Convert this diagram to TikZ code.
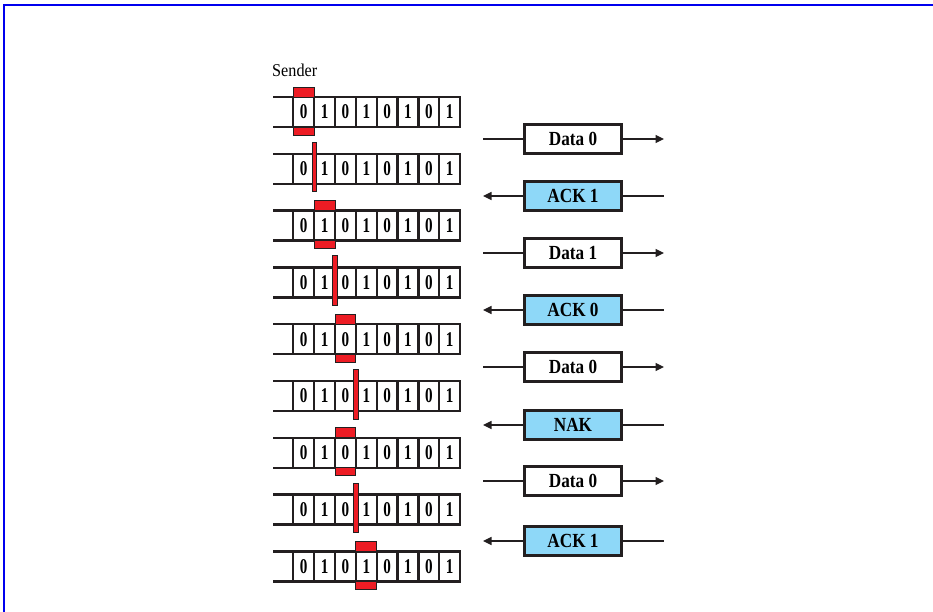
\documentclass[tikz,border=0pt]{standalone}
\usepackage{fontspec}
\setmainfont{Liberation Serif}
\newfontfamily\digfont[FakeStretch=0.72]{Liberation Serif}
\newfontfamily\msgfont[FakeStretch=0.86]{Liberation Serif}
\newfontfamily\lblfont[FakeStretch=0.9]{Liberation Serif}
\usetikzlibrary{arrows.meta}
\definecolor{winred}{HTML}{ED1C24}
\definecolor{ackblue}{HTML}{8ED8F8}
\definecolor{frameblue}{HTML}{0000EE}
\definecolor{edge}{HTML}{231F20}
\begin{document}
\begin{tikzpicture}[x=1pt,y=-1pt,
  cell/.style={draw=edge, line width=2.3pt, minimum width=20.85pt, minimum height=30pt,
    inner sep=0pt, outer sep=0pt, font=\digfont\bfseries\fontsize{21}{21}\selectfont},
  redmark/.style={fill=winred, draw=edge, line width=0.9pt},
  msgbox/.style={draw=edge, line width=2.3pt, minimum width=97pt, minimum height=29pt,
    inner sep=0pt, outer sep=0pt, font=\msgfont\bfseries\fontsize{20}{20}\selectfont},
  databox/.style={msgbox, fill=white},
  ackbox/.style={msgbox, fill=ackblue},
  link/.style={draw=edge, line width=1.2pt},
  arr/.style={link, -{Triangle[length=8.5pt,width=8pt]}}]
\useasboundingbox (0,0) rectangle (933,612);
% frame
\draw[frameblue, line width=2pt] (3.5,612) -- (3.5,5) -- (933,5);
% sender label
\node[font=\lblfont\fontsize{18}{18}\selectfont, anchor=base west, inner sep=0pt] (sender) at (272,76.5) {Sender};
% rows of cells
\foreach \i in {1,...,9} {
  \pgfmathsetmacro\t{97+(\i-1)*56.8}
  \foreach \j/\d in {1/0,2/1,3/0,4/1,5/0,6/1,7/0,8/1} {
    \node[cell] (r\i c\j) at ({293.3+(\j-0.5)*20.85}, \t+15) {\d};
  }
  \draw[draw=edge, line width=2.3pt] (r\i c1.north west) -- ++(-20.5,0);
  \draw[draw=edge, line width=2.3pt] (r\i c1.south west) -- ++(-20.5,0);
}
% sending windows
\foreach \i/\p in {1/1,3/2,5/3,7/3,9/4} {
  \draw[redmark] (r\i c\p.north west) rectangle ([yshift=10pt]r\i c\p.north east);
  \draw[redmark] (r\i c\p.south west) rectangle ([yshift=-8pt]r\i c\p.south east);
}
% bars
\foreach \i/\p in {2/1,4/2,6/3,8/3} {
  \draw[redmark] ([xshift=-2.2pt,yshift=11.5pt]r\i c\p.north east) rectangle ([xshift=2.2pt,yshift=-8pt]r\i c\p.south east);
}
% frames exchanged
\foreach \k/\y/\txt/\dir in {1/139/Data 0/1, 2/196/ACK 1/0, 3/253/Data 1/1, 4/310/ACK 0/0,
    5/367/Data 0/1, 6/425/NAK/0, 7/481/Data 0/1, 8/541/ACK 1/0} {
  \coordinate (ml\k) at (483,\y);
  \coordinate (mr\k) at (664,\y);
  \ifnum\dir=1
    \node[databox] (m\k) at (573,\y) {\txt};
    \draw[link] (ml\k) -- (m\k.west);
    \draw[arr] (m\k.east) -- (mr\k);
  \else
    \node[ackbox] (m\k) at (573,\y) {\txt};
    \draw[arr] (m\k.west) -- (ml\k);
    \draw[link] (m\k.east) -- (mr\k);
  \fi
}
\end{tikzpicture}
\end{document}
